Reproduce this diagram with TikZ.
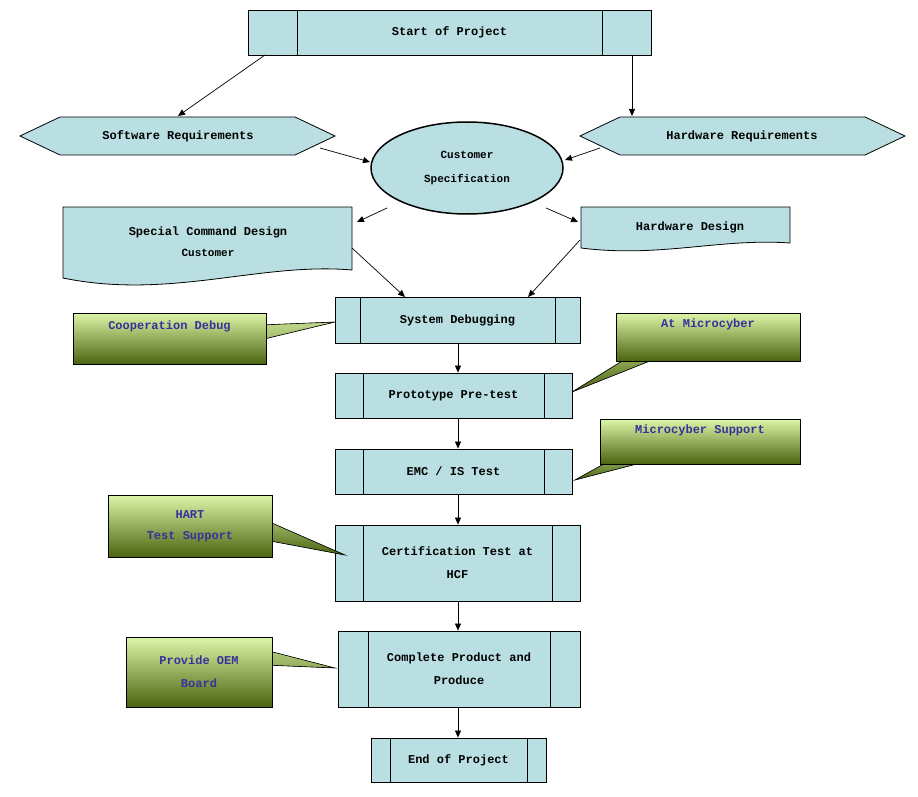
\documentclass[tikz,border=0pt]{standalone}
\usepackage{fontspec}
\setmainfont{Liberation Mono}
\usetikzlibrary{shapes.geometric,arrows.meta}
\definecolor{bx}{HTML}{B9DFE3}
\definecolor{gtop}{HTML}{DDF5A8}
\definecolor{gbot}{HTML}{4A6410}
\definecolor{tb}{HTML}{33339A}
\begin{document}
\begin{tikzpicture}[x=1pt,y=-1pt,
  box/.style={draw=black,fill=bx,line width=0.8pt,font=\bfseries\fontsize{12}{15}\selectfont,align=center,inner sep=0pt},
  call/.style={draw=black,line width=0.6pt,top color=gtop,bottom color=gbot,font=\bfseries\fontsize{12}{15}\selectfont,text=tb,align=center,inner sep=0pt},
  arr/.style={-{Triangle[length=7pt,width=6pt]},line width=0.7pt}]
\useasboundingbox (0,0) rectangle (918,797);
% process boxes with side bars
\newcommand{\pbox}[7]{% name, x1,y1,x2,y2, bar offset, text
  \node[box,minimum width=#4-#2,minimum height=#5-#3] (#1) at ({(#2+#4)/2},{(#3+#5)/2}) {#7};
  \draw[line width=0.8pt] (#2+#6,#3) -- (#2+#6,#5) (#4-#6,#3) -- (#4-#6,#5);}
\pbox{start}{248}{10}{651}{55}{49}{Start of Project}
\pbox{sys}{335}{297}{580}{343}{25}{System Debugging}
\pbox{proto}{335}{373}{572}{418}{28}{Prototype Pre-test}
\pbox{emc}{335}{449}{572}{494}{28}{EMC / IS Test}
\pbox{cert}{335}{525}{580}{601}{28}{Certification Test at\\[8pt]HCF}
\pbox{comp}{338}{631}{580}{707}{30}{Complete Product and\\[8pt]Produce}
\pbox{end}{371}{738}{546}{782}{19}{End of Project}
% hexagons
\draw[box] (20,136) -- (60,117) -- (295,117) -- (335,136) -- (295,155) -- (60,155) -- cycle;
\node[font=\bfseries\fontsize{12}{15}\selectfont] (sw) at (178,136) {Software Requirements};
\draw[box] (580,136) -- (620,117) -- (865,117) -- (905,136) -- (865,155) -- (620,155) -- cycle;
\node[font=\bfseries\fontsize{12}{15}\selectfont] (hw) at (742,136) {Hardware Requirements};
% ellipse
\node[box,ellipse,minimum width=192,minimum height=92,line width=1.5pt,font=\bfseries\fontsize{11}{14}\selectfont] (cs) at (467,168) {Customer\\[10pt]Specification};
% documents
\draw[box] (63,207) -- (352,207) -- (352,270) .. controls (260,262) and (170,300) .. (63,278) -- cycle;
\node[font=\bfseries\fontsize{12}{15}\selectfont,align=center] (scd) at (208,242) {Special Command Design\\[6pt]{\fontsize{11}{14}\selectfont Customer}};
\draw[box] (581,207) -- (790,207) -- (790,243) .. controls (720,238) and (660,258) .. (581,248) -- cycle;
\node[font=\bfseries\fontsize{12}{15}\selectfont] (hd) at (690,227) {Hardware Design};
% callouts
\fill[draw=black,line width=0.6pt,top color=gtop!80!gbot,bottom color=gtop!60!gbot] (260,325) -- (335,322) -- (260,340) -- cycle;
\node[call,minimum width=193,minimum height=51] (c1) at (169.5,338.5) {Cooperation Debug\\[12pt]};
\fill[draw=black,line width=0.6pt,top color=gtop!60!gbot,bottom color=gbot] (640,350) -- (572,392) -- (665,355) -- cycle;
\node[call,minimum width=184,minimum height=48] (c2) at (708,337) {At Microcyber\\[12pt]};
\fill[draw=black,line width=0.6pt,top color=gtop!60!gbot,bottom color=gbot] (620,455) -- (575,480) -- (660,458) -- cycle;
\node[call,minimum width=200,minimum height=45] (c3) at (700,441.5) {Microcyber Support\\[10pt]};
\fill[draw=black,line width=0.6pt,top color=gtop!60!gbot,bottom color=gbot] (265,520) -- (345,555) -- (265,540) -- cycle;
\node[call,minimum width=164,minimum height=62] (c4) at (190,526) {HART\\[6pt]Test Support};
\fill[draw=black,line width=0.6pt,top color=gtop!70!gbot,bottom color=gtop!50!gbot] (265,650) -- (335,668) -- (265,665) -- cycle;
\node[call,minimum width=146,minimum height=70] (c5) at (199,672) {Provide OEM\\[8pt]Board};
% arrows
\draw[arr] (265,55) -- (sw.center |- 0,116);
\draw[arr] (632,55) -- (632,116);
\draw[arr] (320,148) -- (370,162);
\draw[arr] (600,148) -- (565,160);
\draw[arr] (387,208) -- (357,222);
\draw[arr] (546,208) -- (578,222);
\draw[arr] (352,248) -- (405,297);
\draw[arr] (580,240) -- (528,297);
\draw[arr] (sys.south -| 458,0) -- (proto.north -| 458,0);
\draw[arr] (proto.south -| 458,0) -- (emc.north -| 458,0);
\draw[arr] (emc.south -| 458,0) -- (cert.north -| 458,0);
\draw[arr] (cert.south -| 458,0) -- (comp.north -| 458,0);
\draw[arr] (comp.south -| 458,0) -- (end.north -| 458,0);
\end{tikzpicture}
\end{document}
